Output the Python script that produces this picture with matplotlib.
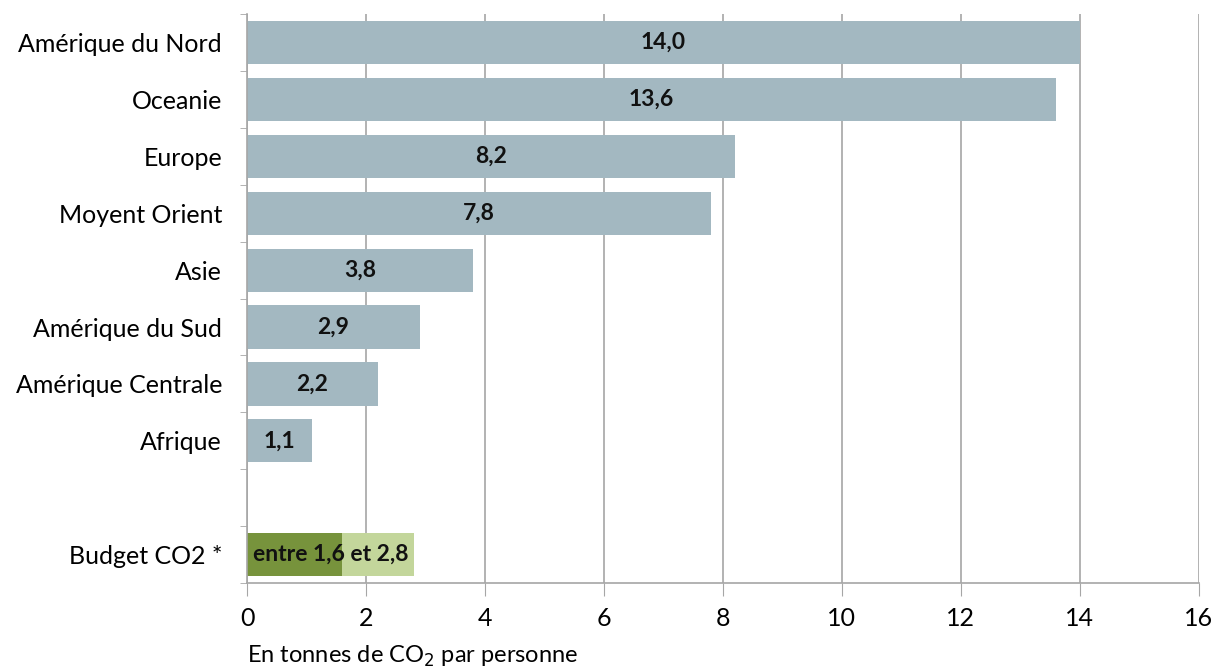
import matplotlib.pyplot as plt
from matplotlib.ticker import FixedLocator

# ==============================
# Données
# ==============================
regions = ["Amérique du Nord", "Oceanie", "Europe", "Moyent Orient", "Asie",
           "Amérique du Sud", "Amérique Centrale", "Afrique"]
valeurs = [14.0, 13.6, 8.2, 7.8, 3.8, 2.9, 2.2, 1.1]
budget_label = "Budget CO2 *"
budget_min = 1.6
budget_max = 2.8

plt.rcParams['font.family'] = ['Lato', 'DejaVu Sans']

# ==============================
# Figure
# ==============================
fig = plt.figure(figsize=(12.14, 6.71), dpi=100)
ax = fig.add_axes([0.2035, 0.131, 0.7839, 0.848])

grille = "#A6A6A6"
bleu = "#A3B8C1"
vert_fonce = "#77933C"
vert_clair = "#C3D69B"

pos = list(range(len(regions)))
ax.barh(pos, valeurs, height=0.76, color=bleu, zorder=2)
for p, v in zip(pos, valeurs):
    ax.text(v / 2, p, f"{v:.1f}".replace(".", ","), ha="center", va="center",
            fontsize=16.5, fontweight="bold", color="#111111", zorder=3)

# budget (ligne séparée après un espace vide)
pb = len(regions) + 1
ax.barh(pb, budget_max, height=0.76, color=vert_clair, zorder=2)
ax.barh(pb, budget_min, height=0.76, color=vert_fonce, zorder=2)
txt_budget = "entre " + f"{budget_min:.1f}".replace(".", ",") + " et " + f"{budget_max:.1f}".replace(".", ",")
ax.text(budget_max / 2, pb, txt_budget, ha="center", va="center",
        fontsize=16.5, fontweight="bold", color="#111111", zorder=3)

# ==============================
# Axes
# ==============================
ax.set_xlim(0, 16)
ax.set_ylim(pb + 0.5, -0.5)
ax.set_xticks(range(0, 17, 2))
ax.tick_params(axis="x", length=9, color=grille, labelsize=18, pad=8)

ax.set_yticks(pos + [pb])
ax.set_yticklabels(regions + [budget_label])
ax.tick_params(axis="y", which="major", length=0, labelsize=18, pad=18)
ax.yaxis.set_minor_locator(FixedLocator([i - 0.5 for i in range(pb + 2)]))
ax.tick_params(axis="y", which="minor", length=5, color=grille)

ax.grid(axis="x", color=grille, linewidth=1.2, zorder=0)
for s in ["top", "right"]:
    ax.spines[s].set_visible(False)
for s in ["left", "bottom"]:
    ax.spines[s].set_color(grille)
    ax.spines[s].set_linewidth(1.2)

fig.text(0.2035, 0.003, "En tonnes de CO$_2$ par personne", ha="left", va="bottom", fontsize=17)

plt.savefig("out.png", dpi=100)
